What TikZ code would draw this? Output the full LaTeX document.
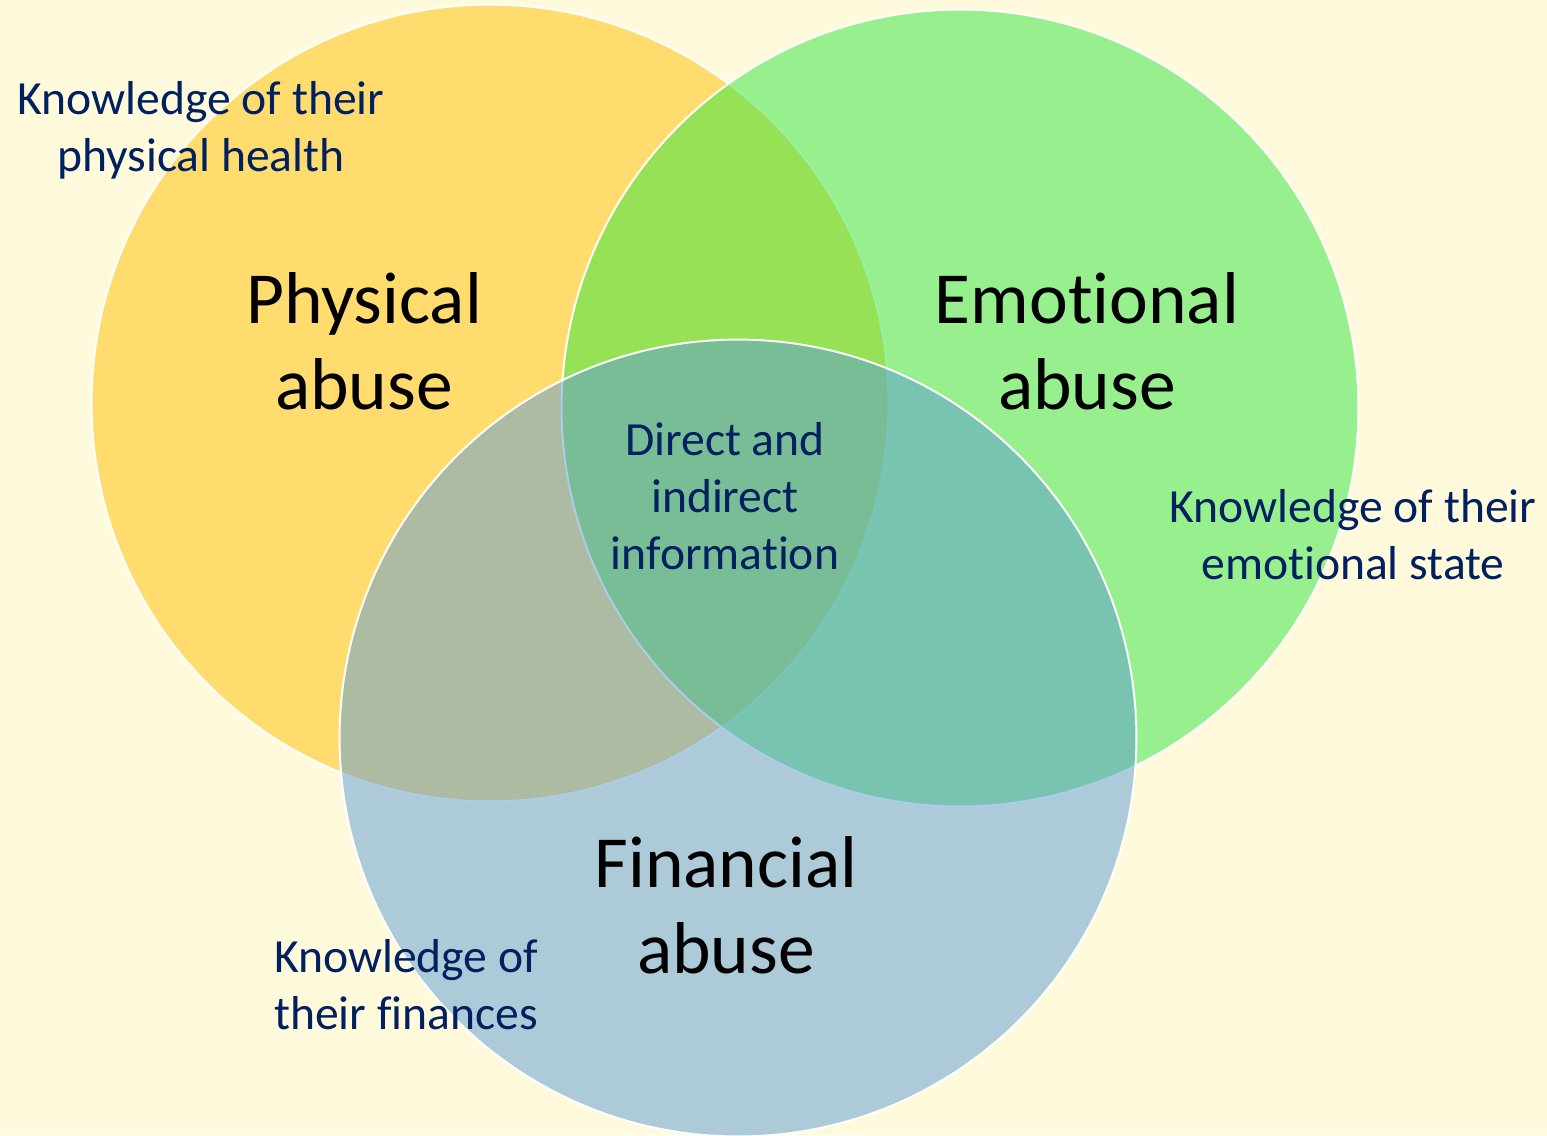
\documentclass[tikz,border=0pt]{standalone}
\usepackage{fontspec}
\setmainfont{Carlito}[Ligatures=NoCommon]
\definecolor{paper}{RGB}{255,250,220}
\definecolor{physfill}{RGB}{255,192,0}
\definecolor{emofill}{RGB}{49,230,66}
\definecolor{finfill}{RGB}{91,155,213}
\definecolor{navy}{RGB}{0,32,96}
\begin{document}
\begin{tikzpicture}[x=0.02cm,y=-0.02cm,
  venn/.style={circle, minimum size=15.94cm, inner sep=0pt, fill opacity=0.5,
    draw=white, line width=1.1pt},
  bigtitle/.style={align=center, inner sep=0pt, text=black,
    font=\fontsize{41.8}{48.9}\selectfont},
  note/.style={align=center, inner sep=0pt, text=navy,
    font=\fontsize{27.1}{32.4}\selectfont}]
  % page and background
  \useasboundingbox (0,0) rectangle (1547,1135);
  \fill[paper] (0,0) rectangle (1547,1135);
  % the three overlapping sets
  \node[venn, fill=physfill] (phys) at (490,403) {};
  \node[venn, fill=emofill] (emo) at (960,408) {};
  \node[venn, fill=finfill] (fin) at (738,738) {};
  % set titles
  \node[bigtitle] (physT) at (364,341) {Physical\\abuse};
  \node[bigtitle] (emoT) at (1087,341) {Emotional\\abuse};
  \node[bigtitle] (finT) at (726,905) {Financial\\abuse};
  % notes
  \node[note] (physN) at (201,130) {Knowledge of their\\physical health};
  \node[note] (emoN) at (1353,535) {Knowledge of their\\emotional state};
  \node[note] (finN) at (406,985) {Knowledge of\\their finances};
  \node[note] (core) at (725,496) {Direct and\\indirect\\information};
\end{tikzpicture}
\end{document}
